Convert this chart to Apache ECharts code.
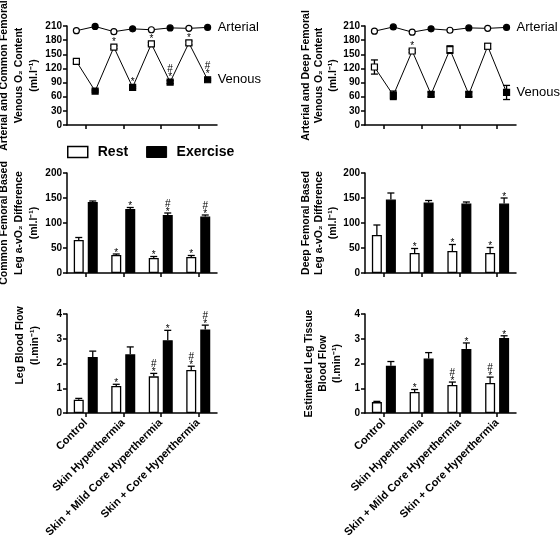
<!DOCTYPE html>
<html><head><meta charset="utf-8">
<script src="https://cdn.jsdelivr.net/npm/echarts@6/dist/echarts.min.js"></script>
<style>html,body{margin:0;padding:0;background:#fff}#c{width:560px;height:536px}</style>
</head><body><div id="c"></div><script>
const conditions = ['Control', 'Skin Hyperthermia', 'Skin + Mild Core Hyperthermia', 'Skin + Core Hyperthermia'];
const topCats = ['Control Rest', 'Control Exercise', 'Skin Rest', 'Skin Exercise', 'Mild Rest', 'Mild Exercise', 'Core Rest', 'Core Exercise'];

// Top-left: arterial & common femoral venous O2 content (ml/l)
const cfArterial = [200, 209, 198, 204, 202, 206, 205, 207];
const cfVenous = [135, 72, 165, 80, 172, 91, 174, 96];
const cfVenousErr = [4, 2, 3, 2, 3, 3, 4, 2];
const cfVenousSig = ['', '', '*', '*', '*', '#\n*', '*', '#\n*'];

// Top-right: arterial & deep femoral venous O2 content (ml/l)
const dfArterial = [199, 208, 197, 204, 201, 206, 205, 207];
const dfVenous = [123, 63, 157, 65, 160, 65, 167, 69];
const dfVenousErr = [15, 9, 3, 5, 8, 5, 6, 15];
const dfVenousSig = ['', '', '*', '', '', '', '', ''];

// Middle-left: common femoral based leg a-vO2 difference
const cfDiffRest = [66, 36, 30, 32];
const cfDiffRestErr = [5, 2, 3, 3];
const cfDiffRestSig = ['', '*', '*', '*'];
const cfDiffEx = [142, 128, 116, 113];
const cfDiffExErr = [2, 3, 4, 3];
const cfDiffExSig = ['', '*', '#\n*', '#\n*'];

// Middle-right: deep femoral based leg a-vO2 difference
const dfDiffRest = [76, 40, 44, 40];
const dfDiffRestErr = [20, 9, 13, 11];
const dfDiffRestSig = ['', '*', '*', '*'];
const dfDiffEx = [147, 141, 139, 139];
const dfDiffExErr = [13, 4, 3, 11];
const dfDiffExSig = ['', '', '', '*'];

// Bottom-left: leg blood flow (l/min)
const legFlowRest = [0.54, 1.09, 1.48, 1.74];
const legFlowRestErr = [0.05, 0.07, 0.12, 0.15];
const legFlowRestSig = ['', '*', '#\n*', '#\n*'];
const legFlowEx = [2.26, 2.37, 2.94, 3.37];
const legFlowExErr = [0.24, 0.3, 0.4, 0.18];
const legFlowExSig = ['', '', '*', '#\n*'];

// Bottom-right: estimated leg tissue blood flow (l/min)
const tissueRest = [0.44, 0.85, 1.13, 1.21];
const tissueRestErr = [0.03, 0.1, 0.12, 0.24];
const tissueRestSig = ['', '*', '#\n*', '#\n*'];
const tissueEx = [1.91, 2.2, 2.59, 3.03];
const tissueExErr = [0.17, 0.24, 0.24, 0.09];
const tissueExSig = ['', '', '*', '*'];

const FONT = '"Liberation Sans", Arial, sans-serif';
const chart = echarts.init(document.getElementById('c'), null, {renderer: 'canvas'});

const grids = [
  {left: 67, top: 26, width: 150, height: 99},
  {left: 365, top: 26, width: 151, height: 99},
  {left: 67, top: 173, width: 150, height: 100},
  {left: 365, top: 173, width: 151, height: 100},
  {left: 67, top: 314, width: 150, height: 99},
  {left: 365, top: 314, width: 151, height: 99}
].map(g => Object.assign({outerBoundsMode: 'none', containLabel: false}, g));

const axLine = {show: true, lineStyle: {color: '#000', width: 1.5}};
function condAxis(gi, showLabels) {
  return {
    type: 'category', gridIndex: gi, data: conditions, boundaryGap: true, position: 'bottom',
    axisLine: axLine,
    axisTick: {show: true, alignWithLabel: true, length: 4, lineStyle: {color: '#000', width: 1.5}},
    axisLabel: {show: showLabels, interval: 0, rotate: 45, margin: 8, color: '#000', fontWeight: 'bold', fontSize: 11, fontFamily: FONT},
    splitLine: {show: false}
  };
}
function hiddenTopAxis(gi) {
  return {type: 'category', gridIndex: gi, data: topCats, boundaryGap: true, show: false};
}
function valAxis(gi, min, max, interval, name, gap, lh, shiftUp) {
  return {
    type: 'value', gridIndex: gi, min: min, max: max, interval: interval,
    name: name, nameLocation: 'middle', nameRotate: 90, nameGap: gap,
    nameTextStyle: {color: '#000', fontWeight: 'bold', fontSize: 10.5, fontFamily: FONT, lineHeight: lh, align: 'center',
      padding: [0, 0, 0, shiftUp * 2]},
    axisLine: axLine,
    axisTick: {show: true, length: 4, lineStyle: {color: '#000', width: 1.5}},
    axisLabel: {color: '#000', fontWeight: 'bold', fontSize: 10, fontFamily: FONT, margin: 5},
    splitLine: {show: false}
  };
}

const xAxes = [
  condAxis(0, false), condAxis(1, false), condAxis(2, false), condAxis(3, false), condAxis(4, true), condAxis(5, true),
  hiddenTopAxis(0), hiddenTopAxis(1)
];
const yAxes = [
  valAxis(0, 0, 210, 30, 'Arterial and Common Femoral\nVenous O\u2082 Content\n(ml.l\u207B\u00B9)', 22, 15, 0),
  valAxis(1, 0, 210, 30, 'Arterial and Deep Femoral\nVenous O\u2082 Content\n(ml.l\u207B\u00B9)', 21, 13.5, 0),
  valAxis(2, 0, 200, 50, 'Common Femoral Based\nLeg a-vO\u2082 Difference\n(ml.l\u207B\u00B9)', 22, 15, 0),
  valAxis(3, 0, 200, 50, 'Deep Femoral Based\nLeg a-vO\u2082 Difference\n(ml.l\u207B\u00B9)', 21, 13.5, 0),
  valAxis(4, 0, 4, 1, 'Leg Blood Flow\n(l.min\u207B\u00B9)', 24, 15, 18),
  valAxis(5, 0, 4, 1, 'Estimated Leg Tissue\nBlood Flow\n(l.min\u207B\u00B9)', 21, 14, 0)
];

function errSeries(xi, yi, vals, errs, sigs, offset, both, symHalf) {
  return {
    type: 'custom', xAxisIndex: xi, yAxisIndex: yi, z: 1, silent: true,
    data: vals.map((v, i) => [i, v, errs[i]]),
    encode: {x: 0, y: 1},
    renderItem: function (p, api) {
      const i = api.value(0), v = api.value(1), e = api.value(2);
      const sig = sigs[p.dataIndex];
      const c = api.coord([i, v]);
      const t = api.coord([i, v + e]);
      const b = api.coord([i, both ? v - e : v]);
      const x = c[0] + offset;
      const ls = {stroke: '#000', lineWidth: 1.3};
      const children = [
        {type: 'line', shape: {x1: x, y1: b[1], x2: x, y2: t[1]}, style: ls},
        {type: 'line', shape: {x1: x - 3.5, y1: t[1], x2: x + 3.5, y2: t[1]}, style: ls}
      ];
      if (both) children.push({type: 'line', shape: {x1: x - 3.5, y1: b[1], x2: x + 3.5, y2: b[1]}, style: ls});
      if (sig) {
        const yTop = Math.min(t[1], c[1] - symHalf) + 3;
        children.push({type: 'text', z2: 10, style: {text: sig, x: x, y: yTop, align: 'center', verticalAlign: 'bottom',
          fill: '#000', font: '10px ' + FONT, lineHeight: 8}});
      }
      return {type: 'group', children: children};
    }
  };
}

function lineSeries(xi, yi, name, vals, symbol, labelName) {
  return {
    type: 'line', name: name, xAxisIndex: xi, yAxisIndex: yi, z: 3,
    data: vals.map((v, i) => ({value: v, itemStyle: {color: i % 2 ? '#000' : '#fff', borderColor: '#000', borderWidth: 1.2}})),
    symbol: symbol, symbolSize: 6, showAllSymbol: true,
    lineStyle: {color: '#000', width: 1},
    endLabel: {show: true, formatter: labelName, distance: 10, color: '#000', fontSize: 13, fontFamily: FONT},
    animation: false
  };
}

function barSeries(xi, yi, name, vals, fill) {
  return {
    type: 'bar', name: name, xAxisIndex: xi, yAxisIndex: yi, data: vals,
    barWidth: 10, barGap: '40%',
    itemStyle: {color: fill, borderColor: '#000', borderWidth: 1.3},
    animation: false
  };
}

const series = [
  lineSeries(6, 0, 'Arterial', cfArterial, 'circle', 'Arterial'),
  lineSeries(6, 0, 'Venous', cfVenous, 'rect', 'Venous'),
  errSeries(6, 0, cfVenous, cfVenousErr, cfVenousSig, 0, true, 4),
  lineSeries(7, 1, 'Arterial', dfArterial, 'circle', 'Arterial'),
  lineSeries(7, 1, 'Venous', dfVenous, 'rect', 'Venous'),
  errSeries(7, 1, dfVenous, dfVenousErr, dfVenousSig, 0, true, 4),

  barSeries(2, 2, 'Rest', cfDiffRest, '#fff'),
  barSeries(2, 2, 'Exercise', cfDiffEx, '#000'),
  errSeries(2, 2, cfDiffRest, cfDiffRestErr, cfDiffRestSig, -7, false, 0),
  errSeries(2, 2, cfDiffEx, cfDiffExErr, cfDiffExSig, 7, false, 0),

  barSeries(3, 3, 'Rest', dfDiffRest, '#fff'),
  barSeries(3, 3, 'Exercise', dfDiffEx, '#000'),
  errSeries(3, 3, dfDiffRest, dfDiffRestErr, dfDiffRestSig, -7, false, 0),
  errSeries(3, 3, dfDiffEx, dfDiffExErr, dfDiffExSig, 7, false, 0),

  barSeries(4, 4, 'Rest', legFlowRest, '#fff'),
  barSeries(4, 4, 'Exercise', legFlowEx, '#000'),
  errSeries(4, 4, legFlowRest, legFlowRestErr, legFlowRestSig, -7, false, 0),
  errSeries(4, 4, legFlowEx, legFlowExErr, legFlowExSig, 7, false, 0),

  barSeries(5, 5, 'Rest', tissueRest, '#fff'),
  barSeries(5, 5, 'Exercise', tissueEx, '#000'),
  errSeries(5, 5, tissueRest, tissueRestErr, tissueRestSig, -7, false, 0),
  errSeries(5, 5, tissueEx, tissueExErr, tissueExSig, 7, false, 0)
];

chart.setOption({
  animation: false,
  backgroundColor: '#fff',
  textStyle: {fontFamily: FONT},
  legend: {
    left: 62, top: 140, orient: 'horizontal', itemWidth: 20, itemHeight: 11, itemGap: 18, icon: 'rect',
    selectedMode: false,
    textStyle: {color: '#000', fontWeight: 'bold', fontSize: 14, fontFamily: FONT, padding: [0, 0, 0, 5]},
    data: [
      {name: 'Rest', itemStyle: {color: '#fff', borderColor: '#000', borderWidth: 1.5}},
      {name: 'Exercise', itemStyle: {color: '#000', borderColor: '#000', borderWidth: 1}}
    ]
  },
  grid: grids,
  xAxis: xAxes,
  yAxis: yAxes,
  series: series
});
</script></body></html>
